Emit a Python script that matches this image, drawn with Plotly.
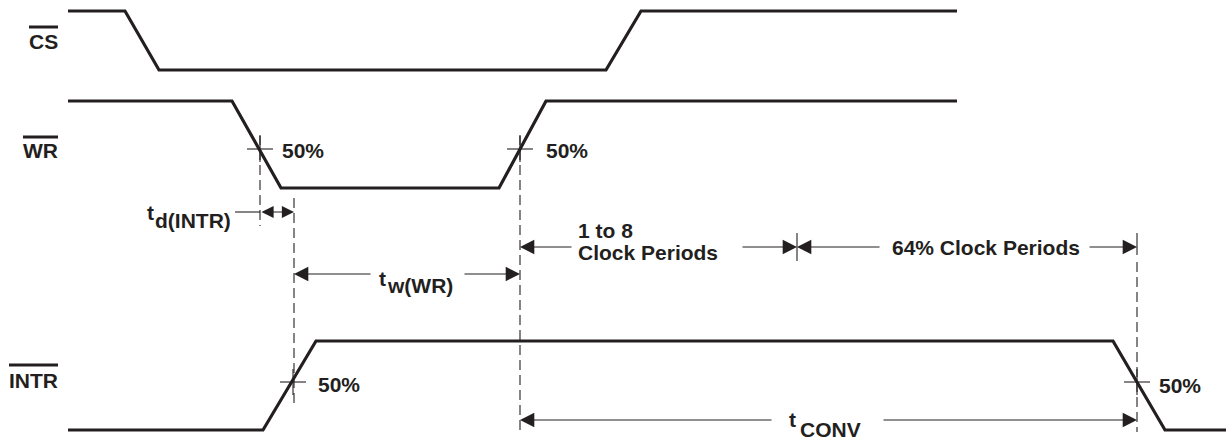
import plotly.graph_objects as go

INK = "#231f20"
FONT = "Liberation Sans, Arial, sans-serif"

# ---- signal waveforms (x in time units of the drawing, y in level units) ----
cs_x = [68, 125, 159, 606, 641, 957]
cs_y = [11, 11, 70, 70, 11, 11]
wr_x = [68, 232, 281, 499, 546, 957]
wr_y = [101, 101, 188, 188, 101, 101]
intr_x = [68, 263, 316, 1113, 1165, 1226]
intr_y = [430, 430, 341, 341, 430, 430]

signal_names = ["CS", "WR", "INTR"]
signal_label_y = [41, 150, 380]
signal_label_left = [29, 23, 9]
overbar_y = [27, 137, 365]

# ---- 50% reference points ----
pct_x = [260, 520, 293, 1137]
pct_y = [149, 149, 382, 382]
pct_label = ["50%", "50%", "50%", "50%"]
pct_text_x = [281, 545, 317, 1158]
pct_text_y = [150, 150, 384, 385]

# ---- dashed reference lines (x, y_top, y_bottom) ----
ref_x = [260, 294, 520, 1137]
ref_top = [135, 198, 135, 262]
ref_bot = [226, 405, 432, 432]

# ---- solid ticks ----
tick_x = [797, 1137]
tick_top = [233, 233]
tick_bot = [261, 255]

# ---- timing measurements ----
meas_names = ["tw(WR)", "1 to 8 Clock Periods", "64% Clock Periods", "tCONV"]
meas_from = [294, 520, 797, 520]
meas_to = [520, 797, 1137, 1137]
meas_y = [274, 247, 247, 420]
meas_gap_l = [372, 573, 881, 773]
meas_gap_r = [463, 741, 1088, 882]

td_from, td_to, td_y, td_leader = 260, 294, 212, 235

fig = go.Figure()

def line(xs, ys, width=1.0, dash=None):
    fig.add_trace(go.Scatter(x=xs, y=ys, mode="lines", hoverinfo="skip",
                             line=dict(color=INK, width=width, dash=dash),
                             showlegend=False))

# waveforms
for xs, ys in [(cs_x, cs_y), (wr_x, wr_y), (intr_x, intr_y)]:
    line(xs, ys, width=3.2)

# dashed references
for x, t, b in zip(ref_x, ref_top, ref_bot):
    line([x, x], [t, b], width=1.1, dash="10px,5px")

# crosshairs
for x, y in zip(pct_x, pct_y):
    line([x - 13, x + 13], [y, y], width=1.1)
    line([x, x], [y - 13, y + 13], width=1.1)

# ticks
for x, t, b in zip(tick_x, tick_top, tick_bot):
    line([x, x], [t, b], width=1.1)

# overbars
for l, y in zip(signal_label_left, overbar_y):
    line([l, 58], [y, y], width=3)

ann = []
HEAD = 2.6

def arrow(tip, tail, y):
    ann.append(dict(x=tip, y=y, ax=tail, ay=y, xref="x", yref="y", axref="x", ayref="y",
                    showarrow=True, arrowhead=2, arrowsize=HEAD, arrowwidth=1.1,
                    arrowcolor=INK, standoff=0, startstandoff=0, text=""))

for a, b, y, gl, gr in zip(meas_from, meas_to, meas_y, meas_gap_l, meas_gap_r):
    arrow(a, gl, y)
    arrow(b, gr, y)

# td(INTR)
ann.append(dict(x=td_to, y=td_y, ax=td_from, ay=td_y, xref="x", yref="y", axref="x", ayref="y",
                showarrow=True, arrowhead=2, startarrowhead=2, arrowside="end+start",
                arrowsize=2.2, startarrowsize=2.2, arrowwidth=1.1, arrowcolor=INK,
                standoff=0, startstandoff=0, text=""))
line([td_leader, td_from], [td_y, td_y], width=1.1)

def text(s, x, y, xanchor="left", size=21):
    ann.append(dict(x=x, y=y, xref="x", yref="y", text=s, showarrow=False,
                    xanchor=xanchor, yanchor="middle", borderpad=0,
                    font=dict(family=FONT, size=size, color=INK, weight="bold")))

for name, y in zip(signal_names, signal_label_y):
    text(name, 59, y, xanchor="right")

for s, x, y in zip(pct_label, pct_text_x, pct_text_y):
    text(s, x, y)

# measurement labels
text("t", 155, 212, xanchor="right")
text("d(INTR)", 154, 220)
text("t", 387, 278, xanchor="right")
text("w(WR)", 386, 285)
text("1 to 8", 577, 230)
text("Clock Periods", 577, 252)
text("64% Clock Periods", 986, 247, xanchor="center")
text("t", 797, 419, xanchor="right")
text("CONV", 799, 429)

fig.update_layout(
    width=1230, height=440, margin=dict(l=0, r=0, t=0, b=0),
    paper_bgcolor="white", plot_bgcolor="white",
    xaxis=dict(range=[0, 1230], visible=False, fixedrange=True),
    yaxis=dict(range=[440, 0], visible=False, fixedrange=True),
    annotations=ann, showlegend=False,
)

fig.write_html("out.html", config={"displayModeBar": False},
               post_script="document.body.style.margin='0';document.body.style.overflow='hidden';")
